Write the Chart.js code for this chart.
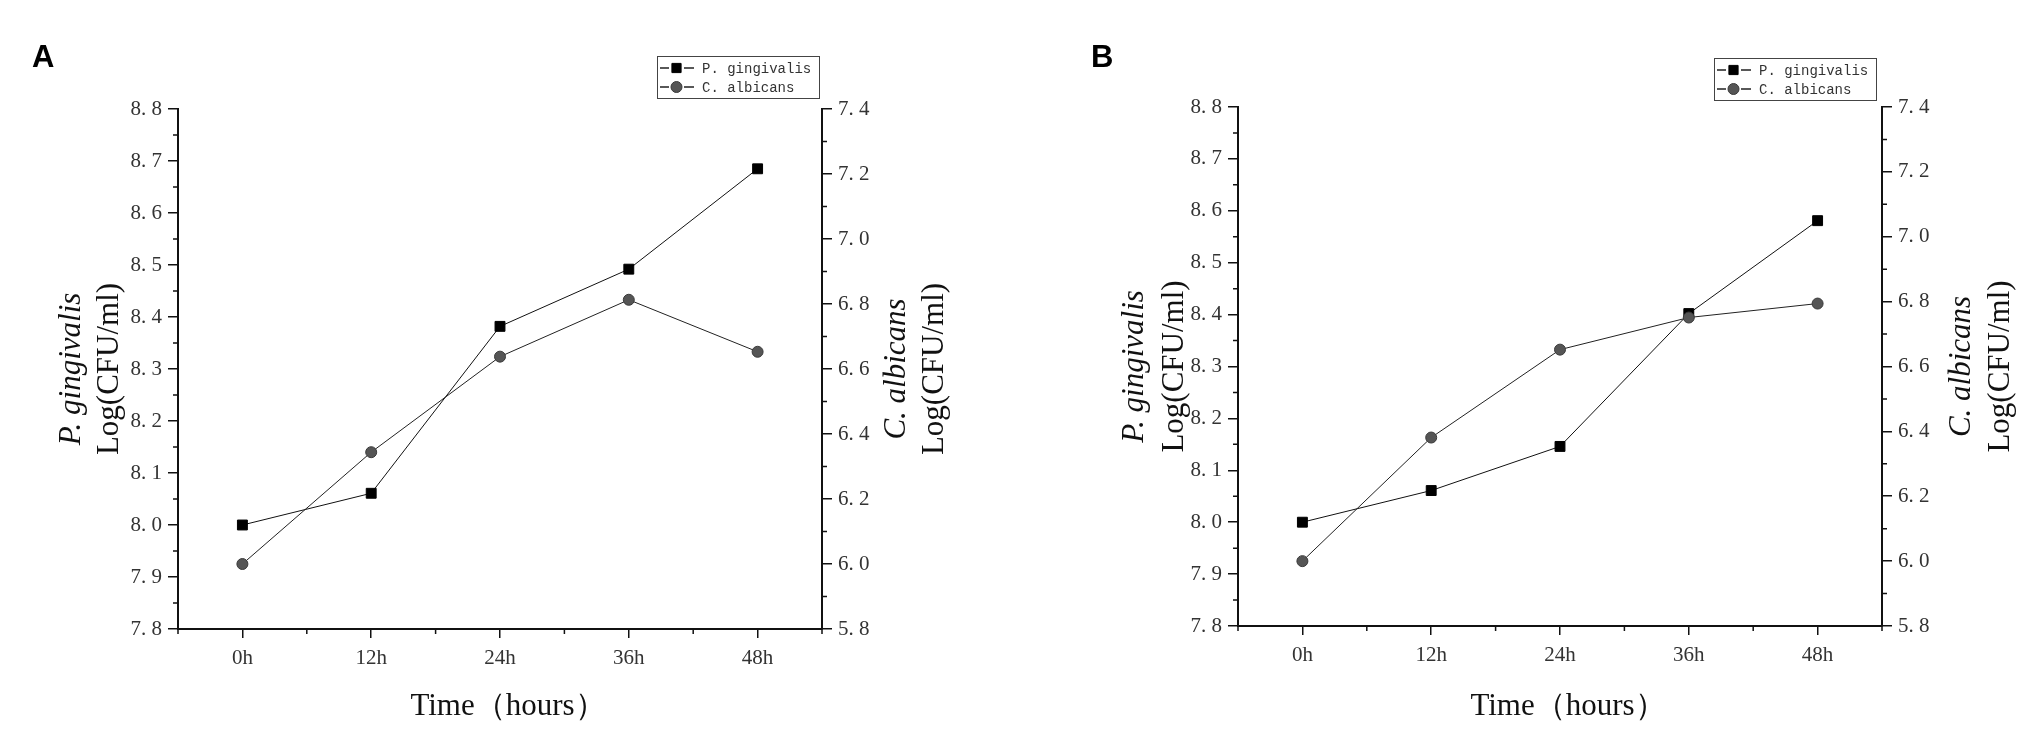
<!DOCTYPE html>
<html lang="en">
<head>
    <meta charset="UTF-8">
    <title>P. gingivalis / C. albicans growth</title>
    <script src="https://cdn.jsdelivr.net/npm/chart.js@4"></script>
    <style>
        body { margin: 0; background: #fff; }
        .panel { position: absolute; top: 0; height: 742px; }
    </style>
</head>

<body>
    <div class="panel" style="left:0;width:1016px"><canvas id="chartA" width="1016" height="742"></canvas></div>
    <div class="panel" style="left:1016px;width:1017px"><canvas id="chartB" width="1017" height="742"></canvas></div>

    <script>
        // Data
        const timeLabels = ['0h', '12h', '24h', '36h', '48h'];
        const pgA = [8.0, 8.061, 8.382, 8.492, 8.685];
        const caA = [6.0, 6.344, 6.638, 6.813, 6.653];
        const pgB = [8.0, 8.061, 8.146, 8.402, 8.581];
        const caB = [6.0, 6.381, 6.652, 6.751, 6.794];

        // Axis ranges
        const pgAxis = { min: 7.8, max: 8.8, step: 0.1 };
        const caAxis = { min: 5.8, max: 7.4, step: 0.2 };

        const serif = '"Liberation Serif", "DejaVu Serif", serif';
        const fmt = v => v.toFixed(1).replace('.', '. ');

        // Draws minor ticks, axis titles, the panel letter and the legend box
        const decor = {
            id: 'decor',
            afterDraw(chart, args, o) {
                const ctx = chart.ctx, a = chart.chartArea;
                const sx = chart.scales.x, yl = chart.scales.y, yr = chart.scales.y1;
                ctx.save();

                // minor ticks
                ctx.strokeStyle = '#111';
                ctx.lineWidth = 1.5;
                ctx.beginPath();
                for (let v = pgAxis.min + pgAxis.step / 2; v < pgAxis.max; v += pgAxis.step) {
                    const py = yl.getPixelForValue(v);
                    ctx.moveTo(a.left, py); ctx.lineTo(a.left - 5, py);
                }
                for (let v = caAxis.min + caAxis.step / 2; v < caAxis.max; v += caAxis.step) {
                    const py = yr.getPixelForValue(v);
                    ctx.moveTo(a.right, py); ctx.lineTo(a.right + 5, py);
                }
                for (let i = 0; i <= timeLabels.length; i++) {
                    const px = sx.getPixelForValue(i - 0.5);
                    ctx.moveTo(px, a.bottom); ctx.lineTo(px, a.bottom + 5);
                }
                ctx.stroke();

                // panel letter
                ctx.fillStyle = '#000';
                ctx.font = 'bold 31px "Liberation Sans", Arial, sans-serif';
                ctx.textAlign = 'left';
                ctx.textBaseline = 'alphabetic';
                ctx.fillText(o.letter, o.letterX, 67);

                // axis titles
                const cy = (a.top + a.bottom) / 2;
                const vtext = (text, bx, font) => {
                    ctx.save();
                    ctx.translate(bx, cy);
                    ctx.rotate(-Math.PI / 2);
                    ctx.font = font;
                    ctx.textAlign = 'center';
                    ctx.textBaseline = 'alphabetic';
                    ctx.fillText(text, 0, 0);
                    ctx.restore();
                };
                ctx.fillStyle = '#111';
                vtext('P. gingivalis', o.titleX[0], 'italic 31px ' + serif);
                vtext('Log(CFU/ml)', o.titleX[1], '31px ' + serif);
                vtext('C. albicans', o.titleX[2], 'italic 31px ' + serif);
                vtext('Log(CFU/ml)', o.titleX[3], '31px ' + serif);

                ctx.font = '31px ' + serif;
                ctx.textAlign = 'center';
                ctx.fillText('Time（hours）', (a.left + a.right) / 2 + 8, 715);

                // legend
                const lx = o.legendX, ly = o.legendY;
                ctx.strokeStyle = '#444';
                ctx.lineWidth = 1;
                ctx.strokeRect(lx + 0.5, ly + 0.5, 162, 42);
                chart.data.datasets.forEach((ds, i) => {
                    const ry = ly + 12 + i * 19;
                    ctx.strokeStyle = '#222';
                    ctx.lineWidth = 1.5;
                    ctx.beginPath();
                    ctx.moveTo(lx + 3, ry); ctx.lineTo(lx + 12, ry);
                    ctx.moveTo(lx + 27, ry); ctx.lineTo(lx + 37, ry);
                    ctx.stroke();
                    ctx.fillStyle = ds.pointBackgroundColor;
                    ctx.strokeStyle = ds.pointBorderColor;
                    ctx.lineWidth = 1;
                    Chart.helpers.drawPoint(ctx, {
                        pointStyle: ds.pointStyle,
                        radius: ds.pointStyle === 'rect' ? 6.5 : 5.5,
                        rotation: 0,
                        borderWidth: 1
                    }, lx + 19.5, ry);
                    ctx.fillStyle = '#333';
                    ctx.font = '14px "Liberation Mono", "DejaVu Sans Mono", monospace';
                    ctx.textAlign = 'left';
                    ctx.textBaseline = 'middle';
                    ctx.fillText(ds.label, lx + 45, ry + 1);
                });
                ctx.restore();
            }
        };

        function makeChart(id, pg, ca, o) {
            const tickFont = { family: serif, size: 21 };
            return new Chart(document.getElementById(id), {
                type: 'line',
                data: {
                    labels: timeLabels,
                    datasets: [{
                        label: 'P. gingivalis',
                        data: pg,
                        yAxisID: 'y',
                        order: 2,
                        borderColor: '#111',
                        borderWidth: 1,
                        pointStyle: 'rect',
                        pointRadius: 7,
                        pointBackgroundColor: '#000',
                        pointBorderColor: '#000',
                        pointBorderWidth: 1
                    }, {
                        label: 'C. albicans',
                        data: ca,
                        yAxisID: 'y1',
                        order: 1,
                        borderColor: '#222',
                        borderWidth: 1,
                        pointStyle: 'circle',
                        pointRadius: 5.5,
                        pointBackgroundColor: '#555',
                        pointBorderColor: '#3a3a3a',
                        pointBorderWidth: 1
                    }]
                },
                options: {
                    responsive: false,
                    animation: false,
                    layout: { padding: { top: o.top, left: 0, right: 0, bottom: 0 } },
                    plugins: {
                        legend: { display: false },
                        tooltip: { enabled: false },
                        decor: o
                    },
                    scales: {
                        x: {
                            type: 'category',
                            offset: true,
                            grid: { offset: false, drawOnChartArea: false, tickLength: 9, color: '#111', lineWidth: 1.5 },
                            border: { color: '#111', width: 2 },
                            ticks: { font: tickFont, color: '#333', padding: 8, maxRotation: 0, autoSkip: false },
                            afterFit(s) { s.height = o.xH; }
                        },
                        y: {
                            position: 'left',
                            min: pgAxis.min,
                            max: pgAxis.max,
                            grid: { drawOnChartArea: false, tickLength: 10, color: '#111', lineWidth: 1.5 },
                            border: { color: '#111', width: 2 },
                            ticks: { stepSize: pgAxis.step, callback: fmt, font: tickFont, color: '#333', padding: 6 },
                            afterFit(s) { s.width = o.leftW; }
                        },
                        y1: {
                            position: 'right',
                            min: caAxis.min,
                            max: caAxis.max,
                            grid: { drawOnChartArea: false, tickLength: 10, color: '#111', lineWidth: 1.5 },
                            border: { color: '#111', width: 2 },
                            ticks: { stepSize: caAxis.step, callback: fmt, font: tickFont, color: '#333', padding: 6 },
                            afterFit(s) { s.width = o.rightW; }
                        }
                    }
                },
                plugins: [decor]
            });
        }

        makeChart('chartA', pgA, caA, {
            top: 109, leftW: 178, rightW: 194, xH: 113,
            letter: 'A', letterX: 32,
            titleX: [80, 118, 905, 943],
            legendX: 657, legendY: 56
        });
        makeChart('chartB', pgB, caB, {
            top: 107, leftW: 222, rightW: 151, xH: 116,
            letter: 'B', letterX: 75,
            titleX: [127, 167, 954, 993],
            legendX: 698, legendY: 58
        });
    </script>
</body>
</html>
